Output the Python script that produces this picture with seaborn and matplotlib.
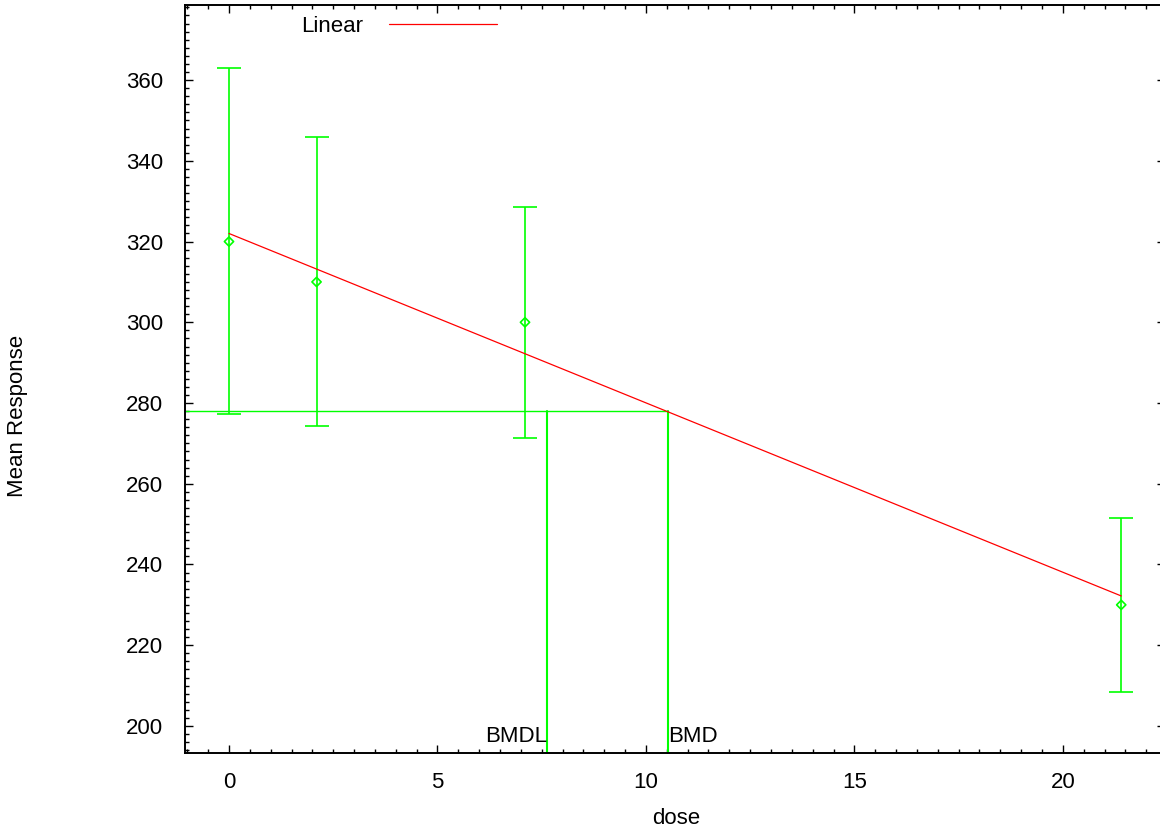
import numpy as np
import pandas as pd
import matplotlib
matplotlib.use("Agg")
import matplotlib.pyplot as plt
from matplotlib.ticker import MultipleLocator
import seaborn as sns

# Observed dose groups: mean response with lower / upper confidence limits
dose = [0.0, 2.1, 7.1, 21.4]
mean_response = [320.0, 310.0, 300.0, 230.0]
lower_limit = [277.2, 274.3, 271.3, 208.4]
upper_limit = [363.0, 345.9, 328.6, 251.4]

# Linear model fit and benchmark dose results
fit_intercept = 322.0
fit_slope = -4.196
bmr_response = 278.0
bmd = 10.53
bmdl = 7.63

x_range = (-1.055, 22.45)
y_range = (193.3, 378.6)

GREEN = "#00ff00"
RED = "#ff0000"

sns.set_theme(style="ticks")
plt.rcParams["font.family"] = ["Liberation Sans", "DejaVu Sans"]
plt.rcParams["font.size"] = 16
plt.rcParams["text.color"] = "black"
plt.rcParams["axes.labelcolor"] = "black"

fig = plt.figure(figsize=(11.6, 8.32), dpi=100)
ax = fig.add_axes([185 / 1160, 1 - 753 / 832, (1165 - 185) / 1160, (753 - 5) / 832])

obs = pd.DataFrame({"dose": dose, "mean": mean_response,
                    "lo": lower_limit, "hi": upper_limit})

# Error bars for each dose group
ax.errorbar(obs["dose"], obs["mean"],
            yerr=[obs["mean"] - obs["lo"], obs["hi"] - obs["mean"]],
            fmt="none", ecolor=GREEN, elinewidth=1.2, capsize=8.3,
            capthick=1.2, zorder=3)

# Group means as open diamonds
sns.scatterplot(data=obs, x="dose", y="mean", marker="D", s=22,
                facecolor="none", edgecolor=GREEN, linewidth=1.2,
                ax=ax, zorder=4, legend=False)

# Fitted linear curve over the dose range
fit = pd.DataFrame({"dose": [min(dose), max(dose)]})
fit["response"] = fit_intercept + fit_slope * fit["dose"]
sns.lineplot(data=fit, x="dose", y="response", color=RED, linewidth=0.9,
             ax=ax, label="Linear", zorder=5)

# Benchmark response level and BMD / BMDL markers
ax.plot([x_range[0], bmd], [bmr_response, bmr_response], color=GREEN,
        linewidth=1.0, zorder=2)
ax.plot([bmdl, bmdl], [y_range[0], bmr_response], color=GREEN,
        linewidth=1.5, zorder=2)
ax.plot([bmd, bmd], [y_range[0], bmr_response], color=GREEN,
        linewidth=1.5, zorder=2)
ax.text(bmdl, 196.0, "BMDL", ha="right", va="baseline", fontsize=16,
        color="black")
ax.text(bmd, 196.0, "BMD", ha="left", va="baseline", fontsize=16,
        color="black")

ax.set_xlim(*x_range)
ax.set_ylim(*y_range)
ax.xaxis.set_major_locator(MultipleLocator(5))
ax.xaxis.set_minor_locator(MultipleLocator(0.5))
ax.yaxis.set_major_locator(MultipleLocator(20))
ax.yaxis.set_minor_locator(MultipleLocator(2))
ax.tick_params(which="both", direction="in", top=True, right=True,
               colors="black", labelsize=16, width=1.0)
ax.tick_params(which="major", length=5.5)
ax.tick_params(which="minor", length=3.2)
ax.tick_params(axis="x", which="major", pad=14)
ax.tick_params(axis="y", which="major", pad=16)
for side in ax.spines.values():
    side.set_visible(True)
    side.set_linewidth(1.4)
    side.set_color("black")

ax.set_xlabel("dose", fontsize=16, labelpad=12)
ax.set_ylabel("Mean Response", fontsize=16, labelpad=0)
ax.yaxis.set_label_coords(18 / 1160, 0.5, transform=fig.transFigure)
ax.xaxis.set_label_coords(676 / 1160, 1 - 818 / 832, transform=fig.transFigure)
ax.xaxis.label.set_va("center")
ax.yaxis.label.set_va("center")

ax.legend(loc="center left", bbox_to_anchor=(301 / 1160, 1 - 26 / 832),
          bbox_transform=fig.transFigure, frameon=False, markerfirst=False,
          handlelength=4.85, handletextpad=1.18, borderpad=0, borderaxespad=0,
          fontsize=16)

fig.savefig("out.png", dpi=100, facecolor="white")
